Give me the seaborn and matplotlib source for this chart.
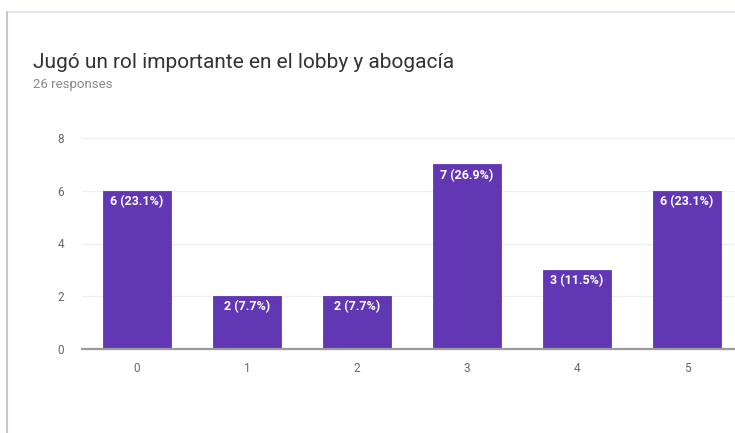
import matplotlib
matplotlib.use("Agg")
import matplotlib.pyplot as plt
from matplotlib.lines import Line2D
import seaborn as sns
import pandas as pd

# Survey results: rating scale 0-5
categories = ["0", "1", "2", "3", "4", "5"]
counts = [6, 2, 2, 7, 3, 6]
total_responses = 26
y_ticks = [0, 2, 4, 6, 8]

title = "Jugó un rol importante en el lobby y abogacía"
subtitle = f"{total_responses} responses"

df = pd.DataFrame({"rating": categories, "count": counts})

sns.set_theme(style="white")
plt.rcParams["font.family"] = ["Roboto", "DejaVu Sans"]

fig = plt.figure(figsize=(7.35, 4.33), dpi=100)
W, H = 735, 433

# card border (top and left edges)
fig.add_artist(Line2D([7 / W, 1], [1 - 12 / H, 1 - 12 / H], color="#e4e0ec", lw=1.2))
fig.add_artist(Line2D([7 / W, 7 / W], [0, 1 - 12 / H], color="#c9c5d3", lw=1.5))

ax = fig.add_axes([82 / W, (H - 349) / H, (W - 82) / W, (349 - 138) / H])

bar_color = "#6237b4"
sns.barplot(data=df, x="rating", y="count", color=bar_color, width=0.62,
            saturation=1, edgecolor=bar_color, linewidth=0.6, ax=ax)

ax.set_xlim(-0.5, (W - 137) / 110)
ax.set_ylim(0, 8)
ax.set_yticks(y_ticks)
ax.set_yticklabels([str(t) for t in y_ticks])
ax.set_xlabel("")
ax.set_ylabel("")

ax.grid(axis="y", color="#efefef", lw=1)
ax.set_axisbelow(True)
for side in ["top", "right", "left"]:
    ax.spines[side].set_visible(False)
ax.spines["bottom"].set_color("#9a9a9a")
ax.spines["bottom"].set_linewidth(1.6)
ax.tick_params(axis="both", length=0, labelsize=8.5, colors="#666666")
ax.tick_params(axis="y", pad=13)
ax.tick_params(axis="x", pad=9)

# value labels inside the top of each bar
for i, c in enumerate(counts):
    pct = c / total_responses * 100
    ax.annotate(f"{c} ({pct:.1f}%)", xy=(i, c), xytext=(0, -3),
                textcoords="offset points", ha="center", va="top",
                color="white", fontsize=9, fontweight="bold")

fig.text(33 / W, 1 - 68 / H, title, fontsize=15, color="#333333",
         ha="left", va="baseline")
fig.text(33 / W, 1 - 88 / H, subtitle, fontsize=9.5, color="#8a8a8a",
         ha="left", va="baseline")

fig.savefig("out.png", dpi=100, facecolor="white")
